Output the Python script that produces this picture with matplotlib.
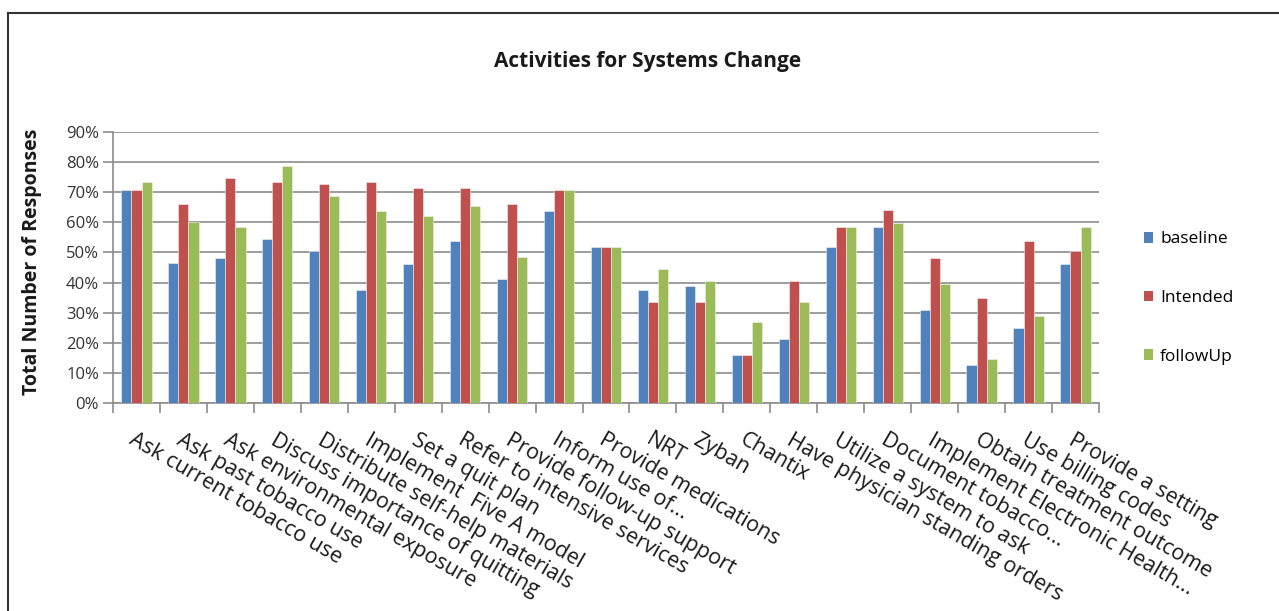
import numpy as np
import matplotlib
matplotlib.use('Agg')
import matplotlib.pyplot as plt
from matplotlib.lines import Line2D
from matplotlib.patches import Patch
from matplotlib.ticker import FixedLocator, PercentFormatter

categories = [
    'Ask current tobacco use', 'Ask past tobacco use',
    'Ask environmental exposure', 'Discuss importance of quitting',
    'Distribute self-help materials', 'Implement  Five A model',
    'Set a quit plan', 'Refer to intensive services',
    'Provide follow-up support', 'Inform use of...',
    'Provide medications', 'NRT', 'Zyban', 'Chantix',
    'Have physician standing orders', 'Utilize a system to ask',
    'Document tobacco...', 'Implement Electronic Health...',
    'Obtain treatment outcome', 'Use billing codes', 'Provide a setting',
]

baseline = [70.6, 46.6, 48.0, 54.4, 50.4, 37.4, 46.0, 53.8, 41.3, 63.6, 51.7,
            37.4, 38.8, 15.8, 21.2, 51.8, 58.3, 30.9, 12.7, 25.0, 46.0]
intended = [70.6, 66.2, 74.6, 73.4, 72.8, 73.3, 71.4, 71.4, 66.2, 70.6, 51.7,
            33.6, 33.6, 15.8, 40.5, 58.3, 64.2, 48.0, 34.8, 53.7, 50.4]
follow_up = [73.4, 60.1, 58.4, 78.6, 68.9, 63.6, 62.2, 65.4, 48.6, 70.6, 51.7,
             44.6, 40.5, 27.0, 33.6, 58.3, 59.8, 39.4, 14.6, 29.0, 58.3]

series_names = ['baseline', 'Intended', 'followUp']
colors = ['#4F81BD', '#C0504D', '#9BBB59']

plt.rcParams['font.family'] = ['Open Sans', 'DejaVu Sans']

fig = plt.figure(figsize=(12.79, 6.11), dpi=100)
ax = fig.add_axes([113 / 1279, 1 - 403 / 611, 986 / 1279, 271 / 611])

x = np.arange(len(categories))
w = 0.215
for i, (vals, col) in enumerate(zip([baseline, intended, follow_up], colors)):
    ax.bar(x + (i - 1) * w, vals, width=w, color=col, edgecolor='#f2f2f2',
           linewidth=0.4, zorder=3, label=series_names[i])

ax.set_xlim(-0.5, len(categories) - 0.5)
ax.set_ylim(0, 90)
ax.yaxis.set_major_locator(FixedLocator(range(0, 91, 10)))
ax.yaxis.set_major_formatter(PercentFormatter(decimals=0))
ax.grid(axis='y', color='#8c8c8c', linewidth=1.2, zorder=0)

ax.set_xticks(np.arange(-0.5, len(categories), 1.0))
ax.set_xticklabels([])
ax.set_xticks(x, minor=True)
ax.set_xticklabels(categories, minor=True, rotation=-30, ha='left', va='top',
                   rotation_mode='anchor', fontsize=15.5, color='#1a1a1a')
ax.tick_params(axis='x', which='minor', length=0, pad=19)
ax.tick_params(axis='x', which='major', length=7, color='#8c8c8c', width=1.2)
ax.tick_params(axis='y', length=7, color='#8c8c8c', width=1.2,
               labelsize=12, labelcolor='#333333', pad=3)

for s in ['top', 'right']:
    ax.spines[s].set_visible(False)
for s in ['left', 'bottom']:
    ax.spines[s].set_color('#8c8c8c')
    ax.spines[s].set_linewidth(1.2)

handles = [Patch(facecolor=c, label=n) for c, n in zip(colors, series_names)]
fig.legend(handles=handles, loc='center left', bbox_to_anchor=(1128 / 1279, 1 - 298 / 611),
           frameon=False, fontsize=12.5, labelspacing=2.45, handlelength=0.55,
           handleheight=0.55, handletextpad=0.4)

fig.text(648 / 1279, 1 - 62 / 611, 'Activities for Systems Change',
         ha='center', va='center', fontsize=15, fontweight='bold', color='#1a1a1a')
fig.text(32 / 1279, 1 - 262 / 611, 'Total Number of Responses', rotation=90,
         ha='center', va='center', fontsize=14, fontweight='bold', color='#1a1a1a')

# outer chart border
fig.add_artist(Line2D([8 / 1279, 8 / 1279], [0, 1 - 13 / 611], color='#333333', linewidth=1.5))
fig.add_artist(Line2D([8 / 1279, 1], [1 - 13 / 611, 1 - 13 / 611], color='#333333', linewidth=1.5))

fig.savefig('out.png', dpi=100)
